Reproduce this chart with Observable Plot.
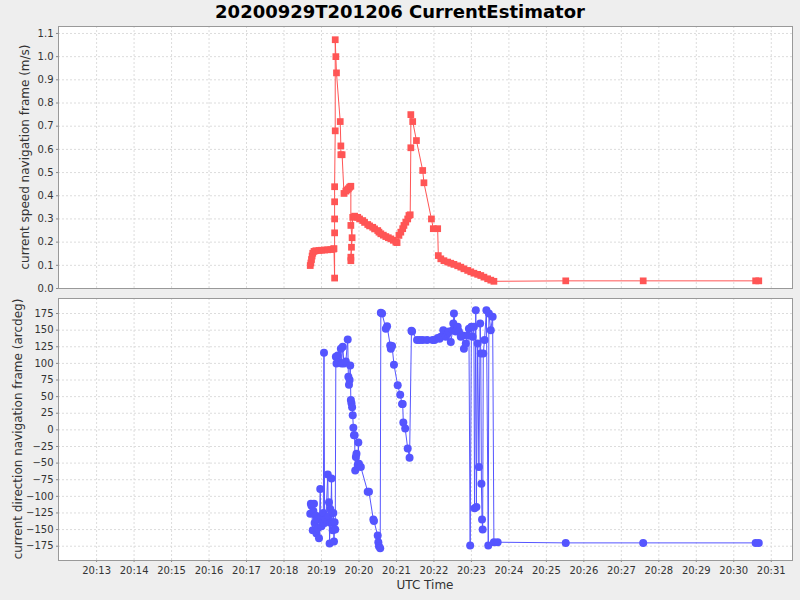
<!DOCTYPE html>
<html><head><meta charset="utf-8">
<script src="https://cdn.jsdelivr.net/npm/d3@7"></script>
<script src="https://cdn.jsdelivr.net/npm/@observablehq/plot@0.6"></script>
<style>
body{margin:0;background:#eeeeee;}
#chart{position:relative;width:800px;height:600px;background:#eeeeee;font-family:"DejaVu Sans",sans-serif;overflow:hidden}
#chart svg{position:absolute;left:0;}
.title{position:absolute;left:0;width:800px;top:1px;text-align:center;font-weight:bold;font-size:18px;color:#000;}
.ylab{position:absolute;white-space:nowrap;font-size:12px;color:#333;transform:translate(-50%,-50%) rotate(-90deg);}
.xlab{position:absolute;top:578px;left:425px;transform:translateX(-50%);font-size:12px;color:#333;white-space:nowrap}
</style></head><body>
<div id="chart">
  <div class="title">20200929T201206 CurrentEstimator</div>
  <div class="ylab" style="left:25px;top:157px">current speed navigation frame (m/s)</div>
  <div class="ylab" style="left:18px;top:429px">current direction navigation frame (arcdeg)</div>
  <div class="xlab">UTC Time</div>
</div>
<script>
const day = "2020-09-29";
const xDomainTimes = ["20:11:59", "20:31:34"];
const xTickLabels = ["20:13","20:14","20:15","20:16","20:17","20:18","20:19","20:20","20:21","20:22","20:23","20:24","20:25","20:26","20:27","20:28","20:29","20:30","20:31"];
const speedTicks = [0.0,0.1,0.2,0.3,0.4,0.5,0.6,0.7,0.8,0.9,1.0,1.1];
const dirTicks = [-175,-150,-125,-100,-75,-50,-25,0,25,50,75,100,125,150,175];

const speedTimes = ["20:18:42","20:18:43","20:18:44","20:18:45","20:18:46","20:18:48","20:18:51","20:18:56","20:19:00","20:19:05","20:19:10","20:19:15","20:19:19","20:19:20",
"20:19:21","20:19:21","20:19:21","20:19:21","20:19:21","20:19:22","20:19:22","20:19:23","20:19:24","20:19:30","20:19:31","20:19:31","20:19:33",
"20:19:36","20:19:39","20:19:41","20:19:43","20:19:45","20:19:47","20:19:47","20:19:49","20:19:48","20:19:47","20:19:47","20:19:50",
"20:19:53","20:19:58","20:20:01","20:20:06","20:20:09","20:20:14","20:20:17","20:20:22","20:20:25","20:20:30","20:20:32","20:20:35","20:20:39","20:20:43","20:20:47","20:20:51","20:20:55","20:20:59","20:21:01",
"20:21:04","20:21:07","20:21:10","20:21:12","20:21:15","20:21:18","20:21:20","20:21:22",
"20:21:23","20:21:23","20:21:26","20:21:32","20:21:42","20:21:44","20:21:56","20:21:59","20:22:06","20:22:07",
"20:22:11","20:22:16","20:22:22","20:22:27","20:22:32","20:22:38","20:22:43","20:22:48","20:22:54","20:22:59","20:23:04","20:23:10","20:23:15","20:23:20","20:23:26","20:23:31","20:23:36",
"20:25:31","20:27:35","20:30:35","20:30:40"];
const speedValues = [0.099,0.11,0.125,0.14,0.152,0.16,0.163,0.164,0.165,0.166,0.167,0.168,0.17,0.172,
0.045,0.24,0.30,0.374,0.439,0.68,1.073,1.0,0.93,0.72,0.615,0.577,0.577,
0.41,0.42,0.425,0.43,0.437,0.441,0.272,0.219,0.178,0.135,0.12,0.307,
0.312,0.307,0.30,0.293,0.285,0.276,0.27,0.264,0.257,0.25,0.243,0.236,0.23,0.224,0.219,0.214,0.208,0.20,0.198,
0.229,0.243,0.258,0.272,0.286,0.30,0.315,0.318,
0.607,0.75,0.72,0.638,0.509,0.456,0.30,0.258,0.258,0.142,
0.128,0.12,0.114,0.109,0.104,0.098,0.092,0.085,0.078,0.072,0.066,0.061,0.056,0.049,0.042,0.036,0.031,
0.033,0.033,0.033,0.033];

const dirTimes = ["20:18:42","20:18:43","20:18:44","20:18:46","20:18:47","20:18:48","20:18:49","20:18:51","20:18:52","20:18:53","20:18:54","20:18:56","20:18:58","20:18:59","20:19:00","20:19:02","20:19:03","20:19:04","20:19:05","20:19:07","20:19:10","20:19:11","20:19:12","20:19:13","20:19:14","20:19:15","20:19:16","20:19:17","20:19:18","20:19:19","20:19:20","20:19:21","20:19:22",
"20:19:23","20:19:24","20:19:26","20:19:28","20:19:31","20:19:32","20:19:34","20:19:36","20:19:39","20:19:42","20:19:43","20:19:44","20:19:45","20:19:46","20:19:47","20:19:48","20:19:49","20:19:50","20:19:51","20:19:52","20:19:53","20:19:54","20:19:55","20:19:56","20:19:58","20:19:59","20:20:00","20:20:03",
"20:20:14","20:20:16","20:20:23","20:20:24","20:20:30","20:20:31","20:20:32","20:20:34","20:20:35","20:20:37","20:20:43","20:20:45","20:20:50","20:20:51","20:20:53","20:20:56","20:21:02","20:21:06","20:21:09","20:21:10","20:21:11","20:21:14","20:21:18","20:21:21",
"20:21:24","20:21:25","20:21:33","20:21:37","20:21:42","20:21:49","20:21:58","20:22:01","20:22:06","20:22:09","20:22:11","20:22:15","20:22:19","20:22:22","20:22:24","20:22:27","20:22:30","20:22:31","20:22:32","20:22:35","20:22:38","20:22:40","20:22:43","20:22:46","20:22:48","20:22:51","20:22:54","20:22:56",
"20:22:58","20:23:00","20:23:02","20:23:04","20:23:05","20:23:07","20:23:08","20:23:10","20:23:12","20:23:14","20:23:15","20:23:16","20:23:17","20:23:18","20:23:19","20:23:21","20:23:24","20:23:27","20:23:28","20:23:31","20:23:34","20:23:36","20:23:42",
"20:25:31","20:27:35","20:30:35","20:30:40"];
const dirValues = [-126,-111,-114,-151,-122,-111,-140,-129,-156,-135,-148,-163,-89,-130,-145,-139,-125,116,-140,-135,-67,-130,-109,-171,-119,-140,-73,-139,-151,-125,-168,-139,-150,
110,100,112,102,122,100,125,100,103,136,80,68,75,97,45,40,34,22,3,-8,-8,-61,-41,-36,-53,-19,-51,-56,
-93,-93,-135,-137,-159,-169,-175,-178,176,175,152,156,127,122,126,98,67,53,39,39,11,2,-28,-42,
149,148,135,135,135,135,135,135,138,137,140,150,140,145,148,132,150,160,175,148,155,148,140,142,122,130,142,152,
-174,155,140,155,-118,180,-116,130,-56,160,115,-81,-135,-150,115,135,180,-174,175,150,170,-169,-169,
-170,-170,-170,-170];

const toDate = t => new Date(`${day}T${t}Z`);
const speed = speedTimes.map((t, i) => ({time: toDate(t), value: speedValues[i]}));
const dir = dirTimes.map((t, i) => ({time: toDate(t), value: dirValues[i]}));
const xDomain = xDomainTimes.map(toDate);
const xTicks = xTickLabels.map(t => toDate(t + ":00"));

const RED = "#FF5555", BLUE = "#5555FF";
const gridStyle = {stroke: "#dcdcdc", strokeOpacity: 1, strokeDasharray: "2,2", strokeWidth: 1};
const common = {width: 800, marginLeft: 58, marginRight: 8,
  style: {fontFamily: "DejaVu Sans, sans-serif", fontSize: "10px", color: "#333", background: "transparent", overflow: "visible"}};

const speedPlot = Plot.plot({
  ...common, height: 292, marginTop: 26, marginBottom: 4,
  x: {type: "utc", domain: xDomain, axis: null},
  y: {domain: [0, 1.13], axis: null},
  marks: [
    Plot.frame({fill: "white", stroke: null}),
    Plot.gridX(xTicks, gridStyle),
    Plot.gridY(speedTicks, gridStyle),
    Plot.axisY(speedTicks, {tickFormat: d3.format(".1f"), tickSize: 2, tickPadding: 3, label: null, stroke: "#888", fill: "#333"}),
    Plot.line(speed, {x: "time", y: "value", stroke: RED, strokeWidth: 1}),
    Plot.dot(speed, {x: "time", y: "value", symbol: "square", r: 3.8, fill: RED}),
    Plot.frame({stroke: "#999", strokeWidth: 1})
  ]
});
speedPlot.style.top = "0px";

const dirPlot = Plot.plot({
  ...common, height: 308, marginTop: 6, marginBottom: 40,
  x: {type: "utc", domain: xDomain},
  y: {domain: [-196.5, 197.6], axis: null},
  marks: [
    Plot.frame({fill: "white", stroke: null}),
    Plot.gridX(xTicks, gridStyle),
    Plot.gridY(dirTicks, gridStyle),
    Plot.axisY(dirTicks, {tickSize: 2, tickPadding: 3, label: null, stroke: "#888", fill: "#333"}),
    Plot.axisX(xTicks, {tickFormat: d3.utcFormat("%H:%M"), tickSize: 2, tickPadding: 4, label: null, stroke: "#888", fill: "#333"}),
    Plot.line(dir, {x: "time", y: "value", stroke: BLUE, strokeWidth: 1}),
    Plot.dot(dir, {x: "time", y: "value", r: 4, fill: BLUE}),
    Plot.frame({stroke: "#999", strokeWidth: 1})
  ]
});
dirPlot.style.top = "292px";

const chart = document.getElementById("chart");
chart.appendChild(speedPlot);
chart.appendChild(dirPlot);
</script>
</body></html>
